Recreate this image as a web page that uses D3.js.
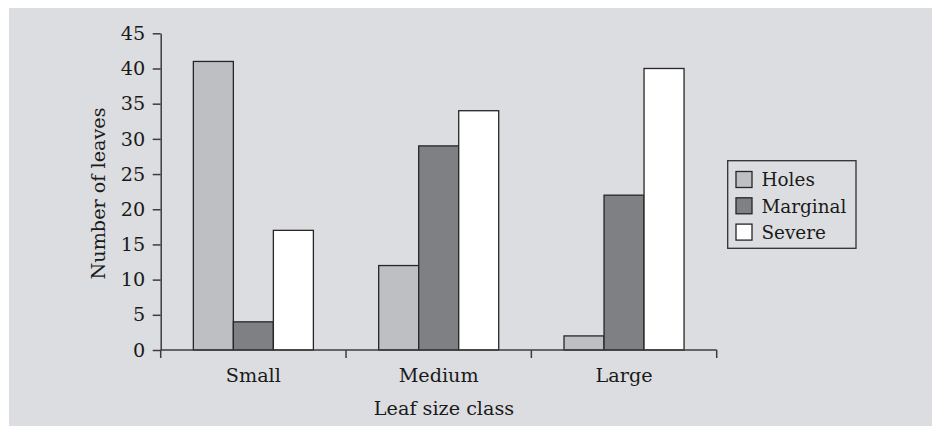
<!DOCTYPE html>
<html>
<head>
<meta charset="utf-8">
<script src="https://cdn.jsdelivr.net/npm/d3@7"></script>
<style>
  html, body { margin: 0; padding: 0; background: #ffffff; }
  svg { display: block; }
  text { font-family: "DejaVu Serif", serif; fill: #1a1a1a; }
</style>
</head>
<body>
<svg id="chart" width="932" height="426"></svg>
<script>
const categories = ["Small", "Medium", "Large"];
const seriesNames = ["Holes", "Marginal", "Severe"];
const holes = [41, 12, 2];
const marginal = [4, 29, 22];
const severe = [17, 34, 40];
const yTicks = [0, 5, 10, 15, 20, 25, 30, 35, 40, 45];
const xTitle = "Leaf size class";
const yTitle = "Number of leaves";

const seriesValues = [holes, marginal, severe];
const colors = ["#bebfc3", "#7f8084", "#ffffff"];

const svg = d3.select("#chart");
const W = 932, H = 426;
const fontSize = 19.2;
const legendFont = 18.4;

svg.append("rect").attr("x", 9).attr("y", 8).attr("width", W - 9).attr("height", H - 8)
  .attr("fill", "#dcdde0");

const x0 = d3.scaleBand().domain(categories).range([160.7, 716.7]).padding(0);
const x1 = d3.scaleBand().domain(seriesNames).range([0, x0.bandwidth()])
  .paddingInner(0).paddingOuter(0.816);
const y = d3.scaleLinear().domain([0, 45]).range([350, 33.3]);

const axisColor = "#3c3c3c";

// bars
const groups = svg.append("g").selectAll("g").data(categories).join("g")
  .attr("transform", d => `translate(${x0(d)},0)`);
groups.selectAll("rect")
  .data((c, ci) => seriesNames.map((s, si) => ({ s, v: seriesValues[si][ci], i: si })))
  .join("rect")
  .attr("x", d => x1(d.s))
  .attr("y", d => y(d.v))
  .attr("width", x1.bandwidth())
  .attr("height", d => y(0) - y(d.v))
  .attr("fill", d => colors[d.i])
  .attr("stroke", "#262626")
  .attr("stroke-width", 1.3);

// y axis
const yAxis = svg.append("g").attr("transform", "translate(160.7,0)")
  .call(d3.axisLeft(y).tickValues(yTicks).tickSize(8).tickPadding(7.5).tickSizeOuter(0));
yAxis.select(".domain").attr("stroke", axisColor).attr("stroke-width", 1.5);
yAxis.selectAll(".tick line").attr("stroke", axisColor).attr("stroke-width", 1.5);
yAxis.selectAll(".tick text").attr("font-size", fontSize).attr("font-family", "DejaVu Serif").attr("fill", "#1a1a1a");

// x axis
const xAxisG = svg.append("g").attr("transform", `translate(0,${y(0)})`);
xAxisG.append("line").attr("x1", x0.range()[0]).attr("x2", x0.range()[1])
  .attr("stroke", axisColor).attr("stroke-width", 1.5);
const bounds = categories.map(c => x0(c)).concat([x0.range()[1]]);
xAxisG.selectAll("line.tk").data(bounds).join("line").attr("class", "tk")
  .attr("x1", d => d).attr("x2", d => d).attr("y1", 0).attr("y2", 8)
  .attr("stroke", axisColor).attr("stroke-width", 1.5);
xAxisG.selectAll("text").data(categories).join("text")
  .attr("x", d => x0(d) + x0.bandwidth() / 2)
  .attr("y", 31.7)
  .attr("text-anchor", "middle")
  .attr("font-size", fontSize)
  .text(d => d);

// titles
svg.append("text").attr("x", 444).attr("y", 415).attr("text-anchor", "middle")
  .attr("font-size", fontSize).text(xTitle);
svg.append("text").attr("transform", "translate(104.5,193.5) rotate(-90)")
  .attr("text-anchor", "middle").attr("font-size", fontSize).text(yTitle);

// legend
const lg = svg.append("g");
lg.append("rect").attr("x", 727.7).attr("y", 160.7).attr("width", 128.3).attr("height", 87.6)
  .attr("fill", "none").attr("stroke", "#303030").attr("stroke-width", 1.3);
seriesNames.forEach((s, i) => {
  const cy = 179.5 + i * 26.3;
  lg.append("rect").attr("x", 736).attr("y", cy - 8).attr("width", 16).attr("height", 16)
    .attr("fill", colors[i]).attr("stroke", "#262626").attr("stroke-width", 1.3);
  lg.append("text").attr("x", 761.5).attr("y", cy + 6.8).attr("font-size", legendFont).text(s);
});
</script>
</body>
</html>
